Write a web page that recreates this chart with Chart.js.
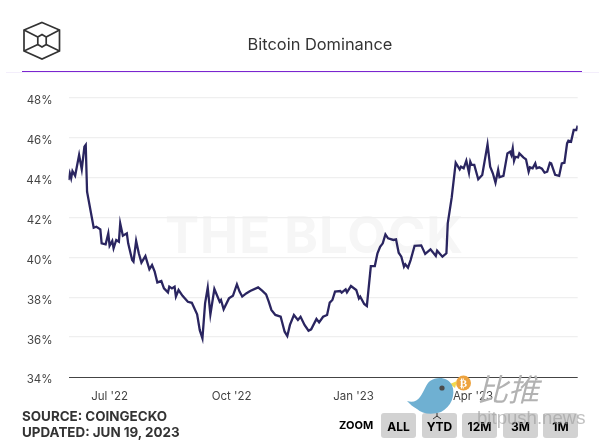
<!DOCTYPE html>
<html>
<head>
<meta charset="utf-8">
<title>Bitcoin Dominance</title>
<script src="https://cdn.jsdelivr.net/npm/chart.js@4"></script>
<style>
  html, body { margin: 0; padding: 0; background: #fff; }
  #page { position: relative; width: 604px; height: 444px; overflow: hidden; font-family: Inter, "Noto Sans", sans-serif; }
  #page > * { position: absolute; }
  canvas { left: 0; top: 0; }
  #mark { left: 165px; top: 205px; font-size: 51px; font-weight: 700; line-height: 60px; color: #f6f6f6; letter-spacing: 1px; white-space: nowrap; }
  #title { left: 220px; width: 200px; top: 34px; text-align: center; font-size: 16.4px; line-height: 20px; color: #333; white-space: nowrap; }
  #rule { left: 22px; top: 71px; width: 560px; height: 1px; background: #7b25cf; }
  #rule2 { left: 6px; top: 72px; width: 593px; height: 1px; background: #f3eefb; }
  #source { left: 22px; top: 408px; font-size: 13.4px; line-height: 16px; font-weight: 700; color: #333; white-space: nowrap; }
  #zoomlabel { left: 339px; top: 418px; font-size: 11px; line-height: 14px; font-weight: 700; color: #000; }
  .btn { top: 413px; width: 35px; height: 25px; line-height: 27px; border-radius: 3px; background: #d2d2d2; color: #000; font-size: 12px; font-weight: 700; text-align: center; }
  #bitpush { left: 477px; top: 408px; font-size: 18.6px; line-height: 20px; color: rgba(160,160,160,.65); font-family: "Liberation Sans", sans-serif; white-space: nowrap; }
  #cn { left: 477px; top: 368px; font-size: 31px; line-height: 40px; letter-spacing: 0; color: #b2b2b2; font-family: "Noto Sans CJK SC"; font-weight: 400; font-style: italic; white-space: nowrap; }
</style>
</head>
<body>
<div id="page">
  <div id="mark">THE BLOCK</div>
  <canvas id="chart" width="604" height="444"></canvas>
  <svg style="left:0;top:0" width="80" height="70" fill="none" stroke="#333" stroke-width="1.7">
    <path d="M42 22.5 L59.5 30 V51 L42 59 L24 51 V30 Z"/>
    <path d="M42 34.5 L46.2 37 V44.5 L42 47 L37.8 44.5 V37 Z"/>
    <path d="M24 30 L37.8 37 M59.5 30 L46.2 37 M24 51 L37.8 44.5 M59.5 51 L46.2 44.5"/>
  </svg>
  <div id="title">Bitcoin Dominance</div>
  <div id="rule"></div>
  <div id="rule2"></div>
  <div id="source">SOURCE: COINGECKO<br>UPDATED: JUN 19, 2023</div>
  <div id="zoomlabel">ZOOM</div>
  <div class="btn" style="left:381px">ALL</div>
  <div class="btn" style="left:422px">YTD</div>
  <div class="btn" style="left:462px">12M</div>
  <div class="btn" style="left:503px">3M</div>
  <div class="btn" style="left:543px">1M</div>
  <svg style="left:400px;top:370px" width="80" height="52">
    <circle cx="63.5" cy="13" r="7.5" fill="#eda33f"/>
    <text x="63.5" y="17" text-anchor="middle" font-size="11" font-weight="700" fill="#fff" font-family="DejaVu Sans">₿</text>
    <path d="M50 14 L57 11 L55 18 Z" fill="#f2d94e"/>
    <path d="M7 31 C13 33 17 31 20 27 C24 22 26 14 30 11 C37 6 48 7 52 15 C56 25 51 37 41 42 C32 45 22 44 17 39 C13 37 10 34 7 31 Z" fill="#6fb0d2"/>
    <circle cx="42" cy="18" r="2.6" fill="#4a4a4a"/>
    <path d="M37 43 V47 M33 49 L37 46 L41 49" stroke="#333" stroke-width="1" fill="none"/>
  </svg>
  <div id="cn">比推</div>
  <div id="bitpush">bitpush.news</div>
</div>
<script>
// hari sejak 1 Jun 2022
const days = [0, 1, 2, 3, 5, 8, 10, 12, 13, 14, 19, 21, 24, 25, 28, 30, 31, 33, 34, 36, 38, 39, 41, 44, 45, 48, 49, 51, 53, 55, 58, 61, 63, 65, 67, 70, 72, 75, 76, 78, 80, 81, 83, 86, 90, 93, 97, 99, 101, 103, 105, 107, 110, 114, 115, 117, 121, 124, 127, 129, 131, 134, 137, 143, 146, 149, 151, 153, 156, 160, 161, 163, 165, 167, 170, 173, 175, 178, 181, 183, 187, 189, 192, 195, 197, 199, 201, 205, 206, 209, 210, 213, 217, 219, 220, 223, 225, 228, 231, 233, 235, 237, 239, 241, 245, 247, 249, 251, 253, 254, 256, 258, 261, 266, 269, 273, 277, 278, 282, 285, 286, 289, 292, 295, 296, 298, 300, 302, 303, 304, 306, 309, 312, 316, 318, 320, 322, 324, 325, 328, 331, 333, 334, 335, 336, 337, 339, 340, 343, 345, 347, 348, 350, 352, 353, 355, 357, 359, 361, 363, 364, 367, 370, 372, 374, 376, 377, 379, 381, 383, 384];
const dominance = [43.87, 44.21, 43.96, 44.32, 44.09, 45.13, 44.41, 45.54, 45.63, 43.29, 41.48, 41.53, 41.40, 40.70, 40.65, 41.20, 40.58, 40.82, 40.45, 40.87, 40.78, 41.70, 41.08, 41.20, 40.70, 39.86, 39.78, 40.82, 40.20, 39.73, 40.06, 39.40, 39.61, 39.28, 38.74, 38.81, 38.44, 38.24, 38.53, 38.44, 38.53, 38.03, 38.36, 38.07, 37.77, 37.72, 37.14, 36.35, 35.94, 37.69, 38.48, 37.14, 38.41, 37.77, 37.86, 37.39, 37.94, 38.07, 38.64, 38.28, 38.03, 38.19, 38.31, 38.49, 38.33, 38.14, 37.78, 37.36, 37.11, 37.02, 36.77, 36.27, 36.05, 36.61, 37.11, 36.86, 37.02, 36.61, 36.32, 36.39, 36.91, 36.74, 37.02, 37.11, 37.73, 37.86, 38.28, 38.31, 38.23, 38.39, 38.24, 38.56, 38.36, 37.94, 38.03, 37.66, 37.56, 39.56, 39.56, 40.20, 40.53, 40.70, 41.15, 40.95, 40.87, 40.90, 40.23, 40.03, 39.53, 39.65, 39.48, 39.86, 40.58, 40.60, 40.17, 40.40, 40.07, 40.33, 40.03, 40.20, 41.70, 43.00, 44.74, 44.41, 44.54, 44.46, 44.84, 44.24, 44.79, 44.63, 44.63, 43.91, 44.13, 45.66, 44.54, 44.21, 43.74, 44.38, 44.01, 44.08, 45.21, 45.29, 45.13, 45.46, 44.84, 45.04, 45.01, 45.21, 45.01, 44.91, 44.29, 44.51, 44.46, 44.71, 44.46, 44.51, 44.44, 44.24, 44.29, 44.74, 44.71, 44.13, 44.08, 44.71, 44.74, 45.71, 45.85, 45.80, 46.38, 46.38, 46.60];
const tickDays = [31, 123, 215, 305];
const tickLabels = ["Jul '22", "Oct '22", "Jan '23", "Apr '23"];

const ctx = document.getElementById("chart").getContext("2d");

new Chart(ctx, {
  type: "line",
  data: {
    datasets: [
      {
        label: "Bitcoin Dominance",
        data: days.map((d, i) => ({ x: d, y: dominance[i] })),
        borderColor: "#2a2560",
        borderWidth: 2.3,
        pointRadius: 0,
        tension: 0
      }
    ]
  },
  options: {
    responsive: false,
    animation: false,
    layout: { padding: { top: 97.7, right: 26.3, bottom: 0, left: 0 } },
    plugins: { legend: { display: false }, tooltip: { enabled: false } },
    scales: {
      x: {
        type: "linear",
        min: 0,
        max: 384,
        grid: { display: false, drawTicks: false },
        border: { display: false },
        afterBuildTicks: scale => {
          scale.ticks = tickDays.map(v => ({ value: v }));
        },
        afterFit: scale => { scale.height = 67; },
        ticks: {
          autoSkip: false,
          maxRotation: 0,
          padding: 13,
          color: "#444",
          font: { family: "Inter", size: 11.5 },
          callback: v => tickLabels[tickDays.indexOf(v)]
        }
      },
      y: {
        min: 34,
        max: 48,
        afterFit: scale => { scale.width = 68.5; },
        border: { display: false },
        grid: {
          drawTicks: false,
          lineWidth: c => (c.tick.value === 34 ? 1 : 1.3),
          color: c => (c.tick.value === 34 ? "#444" : "#efefef")
        },
        ticks: {
          stepSize: 2,
          padding: 16,
          labelOffset: 3,
          color: "#444",
          font: { family: "Inter", size: 11.5 },
          callback: v => v + "%"
        }
      }
    }
  }
});
</script>
</body>
</html>
